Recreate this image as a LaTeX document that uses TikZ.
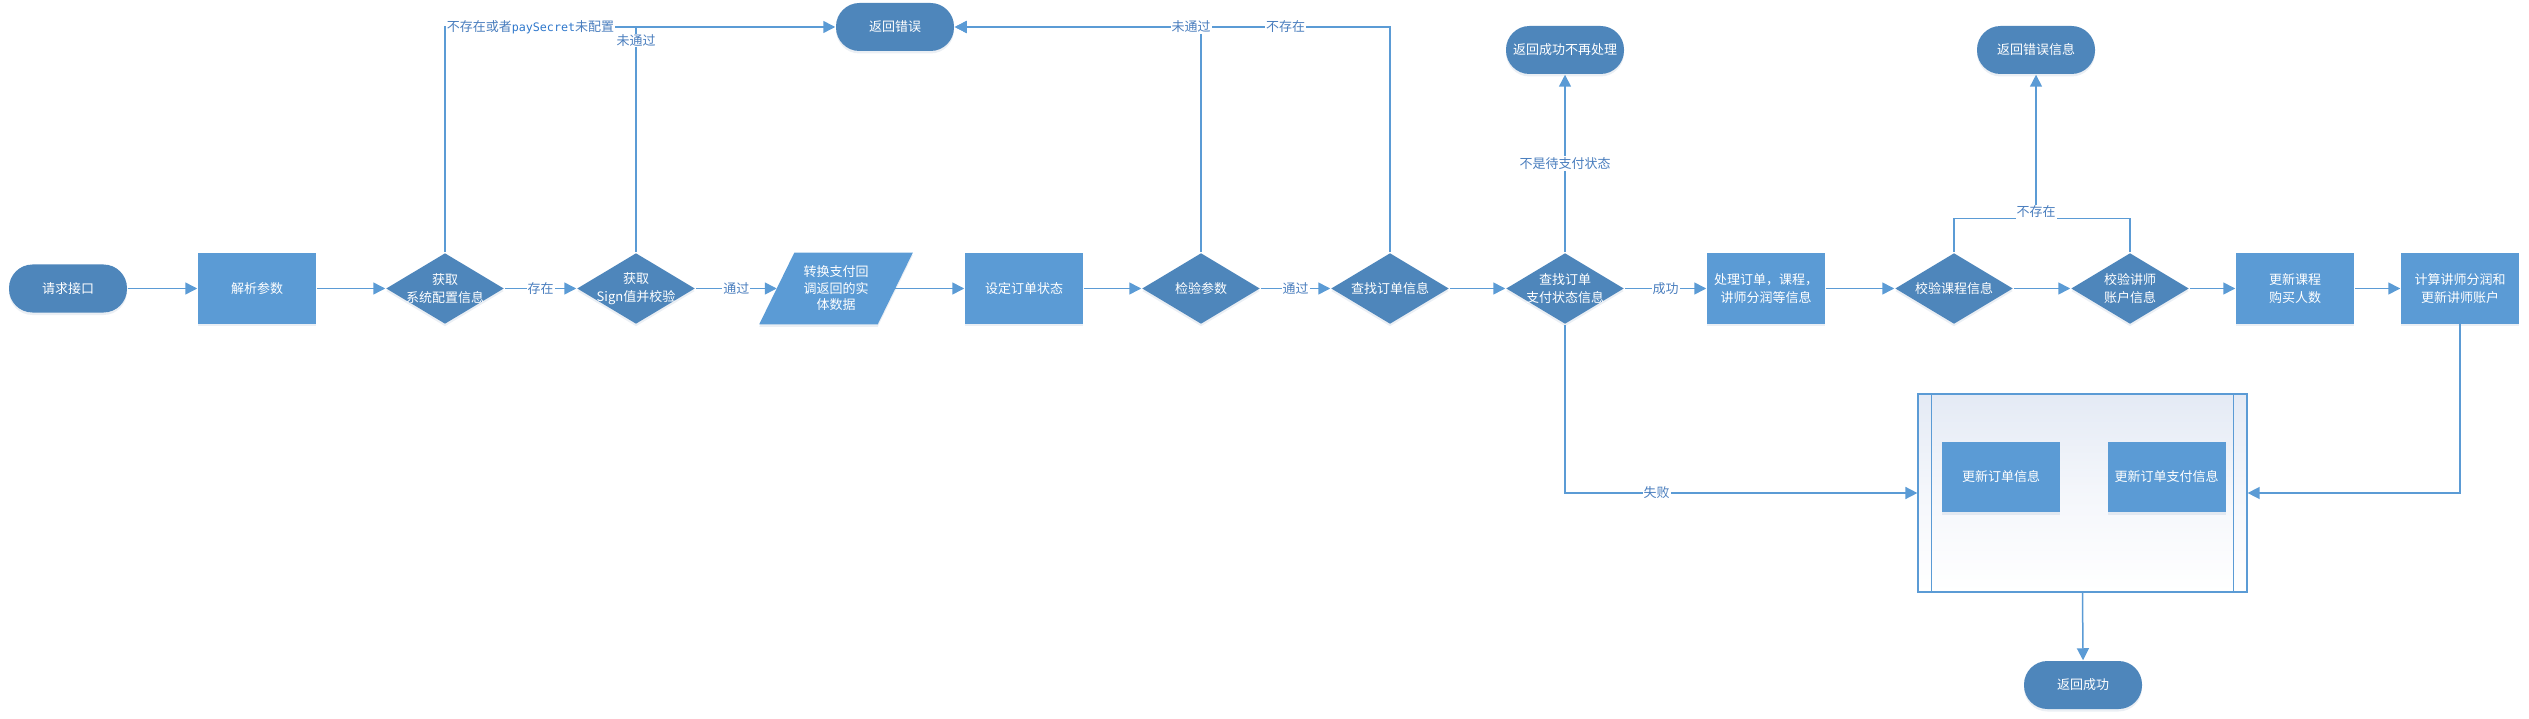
\documentclass[tikz,border=0pt]{standalone}
\usepackage{fontspec}
\usetikzlibrary{arrows.meta, positioning, backgrounds, shapes.geometric, shadows}
\newfontfamily\cjkfont{Noto Sans CJK SC}
\newfontfamily\monofont[Scale=0.9]{DejaVu Sans Mono}
\definecolor{lineBlue}{HTML}{5B9BD5}
\definecolor{termBlue}{HTML}{4E86BB}
\definecolor{boxBlue}{HTML}{5B9BD5}
\definecolor{labelBlue}{HTML}{4A7EBE}
\definecolor{monoBlue}{HTML}{2F78CC}
\definecolor{subTop}{HTML}{E4EAF5}
\definecolor{shadowGray}{HTML}{8FA6C0}

\begin{document}
\begin{tikzpicture}[
    x=1pt, y=1pt,
    >={Triangle[length=12pt, width=12pt]},  % filled triangle tips
    line width=1.5pt,
    font=\cjkfont\fontsize{13}{18}\selectfont
  ]

  %--- Styles for terminators, boxes, decisions, labels ---
  \tikzset{
    softShadow/.style={drop shadow={shadow xshift=0pt, shadow yshift=-2.5pt,
    opacity=0.18, fill=shadowGray}},
    termStyle/.style ={rectangle, rounded corners=23.5pt, fill=termBlue,
    text=white, minimum width=118pt, minimum height=48pt, inner sep=0pt,
    softShadow},
    boxStyle/.style  ={rectangle, fill=boxBlue, text=white, minimum
    width=118pt, minimum height=70pt, inner sep=2pt, align=center,
    softShadow},
    decStyle/.style  ={diamond, fill=termBlue, text=white, minimum
    width=118pt, minimum height=71pt, inner sep=-12pt, align=center,
    softShadow},
    paraStyle/.style ={rectangle, text=white, minimum width=117pt, minimum
    height=70pt, inner sep=0pt, align=center, font=\cjkfont\fontsize{13}{16.5}\selectfont},
    subStyle/.style  ={rectangle, draw=lineBlue, line width=1.2pt,
    top color=subTop, bottom color=white, middle color=white!60!subTop,
    minimum width=329pt, minimum height=198pt},
    flow/.style      ={->, draw=lineBlue},
    plainLine/.style ={draw=lineBlue},
    lbl/.style       ={fill=white, text=labelBlue, inner sep=1pt},
  }

  \useasboundingbox (0,0) rectangle (2529,-719);

  %------------------------------------------------------------------------------
  % 1) Main row, left to right
  %------------------------------------------------------------------------------
  \node[termStyle] (req)    at (68,-288.5)   {请求接口};
  \node[boxStyle]  (parse)  at (257,-288.5)  {解析参数};
  \node[decStyle]  (cfg)    at (445,-288.5)  {获取\\系统配置信息};
  \node[decStyle]  (sign)   at (636,-288.5)  {获取\\Sign值并校验};
  \node[paraStyle] (conv)   at (836,-288.5)  {转换支付回\\调返回的实\\体数据};
  \node[boxStyle]  (setst)  at (1024,-288.5) {设定订单状态};
  \node[decStyle]  (chk)    at (1201,-288.5) {检验参数};
  \node[decStyle]  (find)   at (1390,-288.5) {查找订单信息};
  \node[decStyle]  (fpay)   at (1565,-288.5) {查找订单\\支付状态信息};
  \node[boxStyle]  (proc)   at (1766,-288.5) {处理订单，课程，\\讲师分润等信息};
  \node[decStyle]  (ccourse) at (1954,-288.5) {校验课程信息};
  \node[decStyle]  (cteach) at (2130,-288.5) {校验讲师\\账户信息};
  \node[boxStyle]  (upd)    at (2295,-288.5) {更新课程\\购买人数};
  \node[boxStyle]  (calc)   at (2460,-288.5) {计算讲师分润和\\更新讲师账户};

  % parallelogram body behind its text
  \begin{scope}[on background layer]
    \fill[shadowGray, opacity=0.18] ([xshift=17.5pt, yshift=-2.5pt]conv.north west)
    -- ([xshift=17.5pt, yshift=-2.5pt]conv.north east)
    -- ([xshift=-17.5pt, yshift=-2.5pt]conv.south east)
    -- ([xshift=-17.5pt, yshift=-2.5pt]conv.south west) -- cycle;
    \fill[boxBlue] ([xshift=17.5pt]conv.north west) -- ([xshift=17.5pt]conv.north east)
    -- ([xshift=-17.5pt]conv.south east) -- ([xshift=-17.5pt]conv.south west) -- cycle;
  \end{scope}

  %------------------------------------------------------------------------------
  % 2) End points
  %------------------------------------------------------------------------------
  \node[termStyle] (err)     at (895,-27)   {返回错误};
  \node[termStyle] (okDone)  at (1565,-50)  {返回成功不再处理};
  \node[termStyle] (errInfo) at (2036,-50)  {返回错误信息};
  \node[termStyle] (succ)    at (2083,-685) {返回成功};

  %------------------------------------------------------------------------------
  % 3) Sub process with the two updates
  %------------------------------------------------------------------------------
  \node[subStyle] (sub) at (2082.5,-493) {};
  \draw[plainLine, line width=1.2pt] ([xshift=14pt]sub.north west) -- ([xshift=14pt]sub.south west);
  \draw[plainLine, line width=1.2pt] ([xshift=-14pt]sub.north east) -- ([xshift=-14pt]sub.south east);
  \node[boxStyle] (updOrder) at (2001,-477) {更新订单信息};
  \node[boxStyle] (updPay) [right=46pt of updOrder] {更新订单支付信息};

  %------------------------------------------------------------------------------
  % Edges
  %------------------------------------------------------------------------------
  \draw[flow] (req)   -- (parse);
  \draw[flow] (parse) -- (cfg);
  \draw[flow] (cfg)   -- node[lbl] {存在} (sign);
  \draw[flow] (sign)  -- node[lbl] {通过} (conv);
  \draw[flow] (conv)  -- (setst);
  \draw[flow] (setst) -- (chk);
  \draw[flow] (chk)   -- node[lbl] {通过} (find);
  \draw[flow] (find)  -- (fpay);
  \draw[flow] (fpay)  -- node[lbl] {成功} (proc);
  \draw[flow] (proc)  -- (ccourse);
  \draw[flow] (ccourse) -- (cteach);
  \draw[flow] (cteach) -- (upd);
  \draw[flow] (upd)   -- (calc);

  % errors up to the top
  \draw[flow] (cfg.north) |- node[lbl, pos=0.5, anchor=west]
  {不存在或者{\monofont\color{monoBlue}paySecret}未配置} (err.west);
  \draw[plainLine] (sign.north) -- node[lbl, pos=0.94] {未通过} (sign.north |- err.west);
  \draw[flow] (find.north) |- node[lbl, pos=0.62] {不存在} (err.east);
  \draw[flow] (chk.north)  |- node[lbl, pos=0.52] {未通过} (err.east);

  \draw[flow] (fpay.north) -- node[lbl] {不是待支付状态} (okDone.south);

  \coordinate (errJoin) at ([yshift=-144pt]errInfo.south);
  \draw[plainLine] (ccourse.north) |- (errJoin);
  \draw[plainLine] (cteach.north) |- (errJoin);
  \draw[flow] (errJoin) -- node[lbl, pos=0.05] {不存在} (errInfo.south);

  % into and out of the sub process
  \draw[flow] (fpay.south) |- node[lbl, pos=0.63] {失败} (sub.west);
  \draw[flow] (calc.south) |- (sub.east);
  \draw[flow] (sub.south)  -- (succ.north);

\end{tikzpicture}
\end{document}
